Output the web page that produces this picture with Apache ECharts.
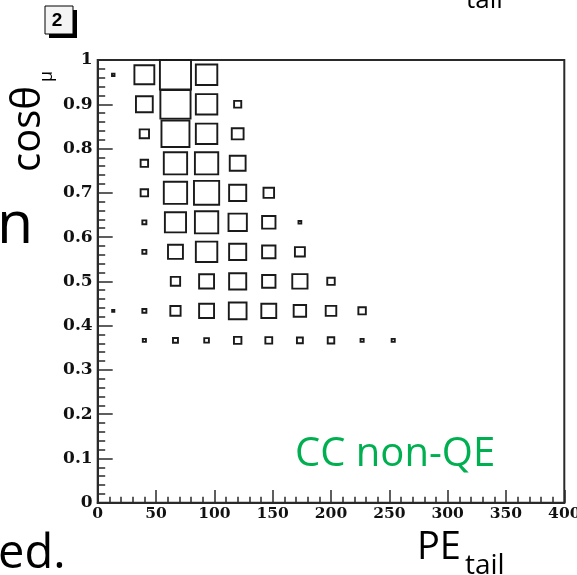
<!DOCTYPE html>
<html>
<head>
<meta charset="utf-8">
<script src="https://cdn.jsdelivr.net/npm/echarts@6/dist/echarts.min.js"></script>
<style>
html,body{margin:0;padding:0;background:#fff;}
#chart{width:577px;height:575px;}
</style>
</head>
<body>
<div id="chart"></div>
<script>
// Histogram binning (ROOT TH2, "box" draw option)
const xRange = [0, 400];
const yRange = [0, 1];
const nBinsX = 15;
const nBinsY = 15;
const xTicks = [0, 50, 100, 150, 200, 250, 300, 350, 400];
const yTicks = [0, 0.1, 0.2, 0.3, 0.4, 0.5, 0.6, 0.7, 0.8, 0.9, 1];

// Relative bin contents (max = 100), one array per cos(theta) bin, columns = PE_tail bins 0..9
const row_cos_0933_1000 = [8, 64, 100, 69, 0, 0, 0, 0, 0, 0];
const row_cos_0867_0933 = [0, 54, 97, 69, 23, 0, 0, 0, 0, 0];
const row_cos_0800_0867 = [0, 30, 90, 69, 38, 0, 0, 0, 0, 0];
const row_cos_0733_0800 = [0, 24, 75, 75, 51, 0, 0, 0, 0, 0];
const row_cos_0667_0733 = [0, 24, 75, 81, 55, 34, 0, 0, 0, 0];
const row_cos_0600_0667 = [0, 13, 68, 75, 59, 43, 9, 0, 0, 0];
const row_cos_0533_0600 = [0, 13, 48, 69, 55, 43, 32, 0, 0, 0];
const row_cos_0467_0533 = [0, 0, 30, 48, 55, 43, 49, 24, 0, 0];
const row_cos_0400_0467 = [7, 13, 33, 48, 57, 48, 40, 34, 24, 0];
const row_cos_0333_0400 = [0, 10, 16, 15, 24, 22, 19, 21, 10, 10];

const rowsByYBin = [
  [14, row_cos_0933_1000],
  [13, row_cos_0867_0933],
  [12, row_cos_0800_0867],
  [11, row_cos_0733_0800],
  [10, row_cos_0667_0733],
  [9, row_cos_0600_0667],
  [8, row_cos_0533_0600],
  [7, row_cos_0467_0533],
  [6, row_cos_0400_0467],
  [5, row_cos_0333_0400]
];

const binW = (xRange[1] - xRange[0]) / nBinsX;
const binH = (yRange[1] - yRange[0]) / nBinsY;
const data = [];
let maxV = 0;
rowsByYBin.forEach(([iy, vals]) => {
  vals.forEach((v, ix) => {
    if (v > 0) {
      data.push([xRange[0] + (ix + 0.5) * binW, yRange[0] + (iy + 0.5) * binH, v]);
      if (v > maxV) maxV = v;
    }
  });
});

const chart = echarts.init(document.getElementById('chart'), null, {renderer: 'canvas'});
const axisColor = '#2a2a2a';

const option = {
  animation: false,
  backgroundColor: '#fff',
  grid: {left: 97.7, right: 12.7, top: 60, bottom: 72.3, containLabel: false, outerBoundsMode: 'none',
         show: true, borderColor: axisColor, borderWidth: 2},
  xAxis: {
    type: 'value', min: xRange[0], max: xRange[1], interval: 50,
    axisLine: {show: true, onZero: false, lineStyle: {color: axisColor, width: 2}},
    axisTick: {show: true, inside: true, length: 12.7, lineStyle: {color: axisColor, width: 1.5}},
    minorTick: {show: true, splitNumber: 5, length: 6, lineStyle: {color: axisColor, width: 1.5}},
    splitLine: {show: false}, minorSplitLine: {show: false},
    axisLabel: {margin: 3, hideOverlap: false, color: '#111', fontFamily: 'DejaVu Serif', fontWeight: 'bold', fontSize: 15.5,
      formatter: v => xTicks.includes(v) ? String(v) : ''}
  },
  yAxis: {
    type: 'value', min: yRange[0], max: yRange[1], interval: 0.1,
    axisLine: {show: true, onZero: false, lineStyle: {color: axisColor, width: 2}},
    axisTick: {show: true, inside: true, length: 15, lineStyle: {color: axisColor, width: 1.5}},
    minorTick: {show: true, splitNumber: 5, length: 7.5, lineStyle: {color: axisColor, width: 1.5}},
    splitLine: {show: false}, minorSplitLine: {show: false},
    axisLabel: {margin: 5, hideOverlap: false, color: '#111', fontFamily: 'DejaVu Serif', fontWeight: 'bold', fontSize: 17,
      formatter: v => {
        const t = yTicks.find(k => Math.abs(k - v) < 1e-6);
        return t === undefined ? '' : String(t);
      }}
  },
  series: [{
    type: 'custom',
    data: data,
    clip: false,
    renderItem: function (params, api) {
      const c = api.coord([api.value(0), api.value(1)]);
      const s = api.size([binW, binH]);
      const f = api.value(2) / maxV;
      const w = Math.max(s[0] * f, 1.5), h = Math.max(s[1] * f, 1.5);
      return {
        type: 'rect',
        shape: {x: c[0] - w / 2, y: c[1] - h / 2, width: w, height: h},
        style: {fill: 'none', stroke: '#1a1a1a', lineWidth: 1.9}
      };
    }
  }],
  graphic: {elements: [
    {type: 'rect', shape: {x: 49, y: 10, width: 28, height: 28}, style: {fill: '#000'}},
    {type: 'rect', shape: {x: 45, y: 6, width: 28, height: 28}, style: {fill: '#f4f4f4', stroke: '#000', lineWidth: 1}},
    {type: 'text', x: 57, y: 21, style: {text: '2', font: 'bold 19px "Liberation Sans"', fill: '#000', align: 'center', verticalAlign: 'middle'}},
    {type: 'text', x: 29, y: 172, rotation: Math.PI / 2, style: {text: 'cosθ', font: '40px "Open Sans"', fill: '#000', align: 'left', verticalAlign: 'middle'}},
    {type: 'text', x: 47, y: 82, rotation: Math.PI / 2, style: {text: 'μ', font: '18px "Open Sans"', fill: '#000', align: 'left', verticalAlign: 'middle'}},
    {type: 'text', x: -3, y: 226, style: {text: 'n', font: '59px "Open Sans"', fill: '#000', align: 'left', verticalAlign: 'middle'}},
    {type: 'text', x: -2, y: 555, style: {text: 'ed.', font: '47px "Open Sans"', fill: '#000', align: 'left', verticalAlign: 'middle'}},
    {type: 'text', x: 295, y: 455, style: {text: 'CC non-QE', font: '40px "Open Sans"', fill: '#00b050', align: 'left', verticalAlign: 'middle'}},
    {type: 'text', x: 417, y: 548, style: {text: 'PE', font: '38px "Open Sans"', fill: '#000', align: 'left', verticalAlign: 'middle'}},
    {type: 'text', x: 465, y: 566, style: {text: 'tail', font: '28px "Open Sans"', fill: '#000', align: 'left', verticalAlign: 'middle'}},
    {type: 'text', x: 466, y: 1, style: {text: 'tail', font: '26px "Open Sans"', fill: '#000', align: 'left', verticalAlign: 'middle'}}
  ]}
};
chart.setOption(option);
</script>
</body>
</html>
